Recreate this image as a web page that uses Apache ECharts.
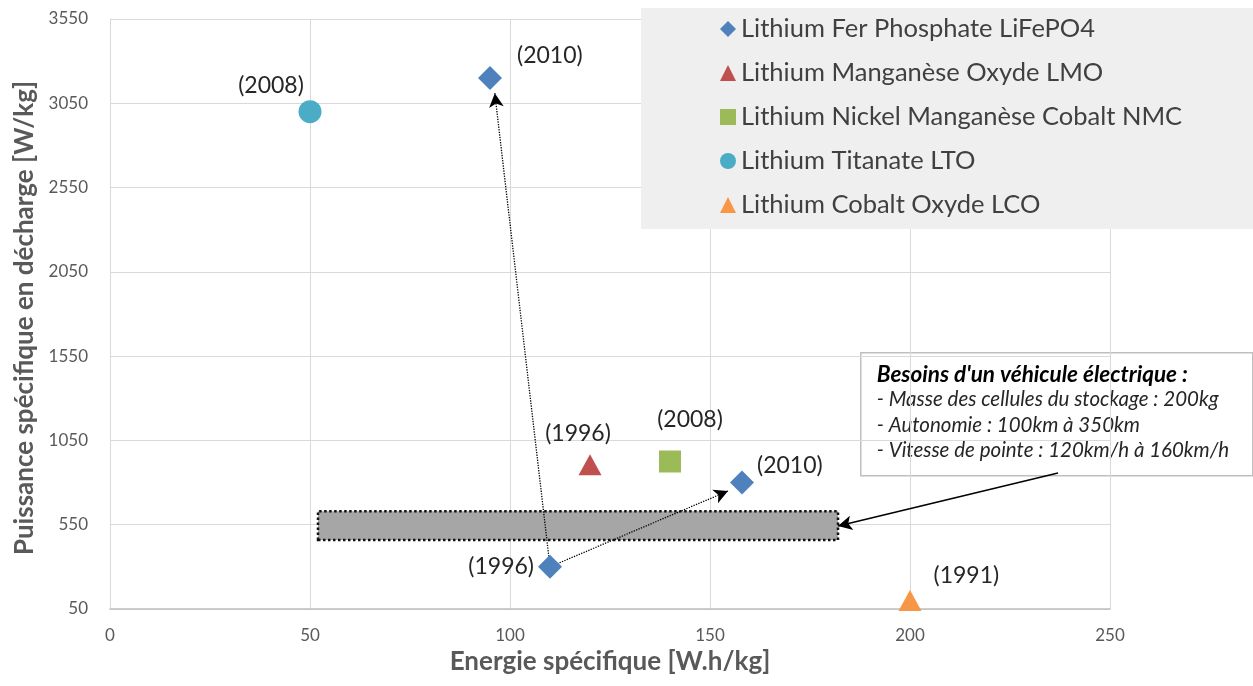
<!DOCTYPE html>
<html>
<head>
<meta charset="utf-8">
<script src="https://cdn.jsdelivr.net/npm/echarts@6/dist/echarts.min.js"></script>
<style>
  html, body { margin: 0; padding: 0; background: #fff; }
  #chart { width: 1253px; height: 686px; }
</style>
</head>
<body>
<div id="chart"></div>
<script>
// noms des familles de batteries
var seriesNames = [
  'Lithium Fer Phosphate LiFePO4',
  'Lithium Manganèse Oxyde LMO',
  'Lithium Nickel Manganèse Cobalt NMC',
  'Lithium Titanate LTO',
  'Lithium Cobalt Oxyde LCO'
];
// energie specifique [W.h/kg]
var lfpX = [110, 158, 95];
var lmoX = [120];
var nmcX = [140];
var ltoX = [50];
var lcoX = [200];
// puissance specifique [W/kg]
var lfpY = [300, 800, 3200];
var lmoY = [905];
var nmcY = [925];
var ltoY = [3000];
var lcoY = [100];
// annees
var lfpYears = ['(1996)', '(2010)', '(2010)'];
var lmoYears = ['(1996)'];
var nmcYears = ['(2008)'];
var ltoYears = ['(2008)'];
var lcoYears = ['(1991)'];

// evolution LiFePO4 (fleches pointillees)
var arrowFrom = [110, 300];
var arrowTo1 = [96.2, 3110];
var arrowTo2 = [154.5, 750];
// zone besoins vehicule electrique
var needX = [52, 182];
var needY = [460, 630];
// fleche de la note
var noteFrom = [237, 857];
var noteTo = [182, 542];

var xTicks = { min: 0, max: 250, step: 50 };
var yTicks = { min: 50, max: 3550, step: 500 };

var colors = ['#4F81BD', '#C0504D', '#9BBB59', '#4BACC6', '#F79646'];
var symbols = ['diamond', 'triangle', 'rect', 'circle', 'triangle'];
var sizes = [[24, 24], [23, 21], [22, 22], [23, 23], [23, 21]];
var font = 'Lato, "Open Sans", sans-serif';

function pts(xs, ys, years, labels) {
  return xs.map(function (x, i) {
    return { value: [x, ys[i]], name: years[i], label: labels[i] };
  });
}
var lblBase = { show: true, color: '#262626', fontSize: 23, fontFamily: font, formatter: '{b}' };

var chart = echarts.init(document.getElementById('chart'));
var option = {
  animation: false,
  grid: { left: 110, right: 143, top: 19, bottom: 77 },
  xAxis: {
    type: 'value', min: xTicks.min, max: xTicks.max, interval: xTicks.step,
    name: 'Energie spécifique [W.h/kg]', nameLocation: 'middle', nameGap: 40,
    nameTextStyle: { color: '#595959', fontSize: 26, fontWeight: 'bold', fontFamily: font },
    axisLine: { lineStyle: { color: '#bfbfbf', width: 1.5 } },
    axisTick: { show: false },
    axisLabel: { color: '#595959', fontSize: 17, fontFamily: font, margin: 18 },
    splitLine: { lineStyle: { color: '#d9d9d9' } }
  },
  yAxis: {
    type: 'value', min: yTicks.min, max: yTicks.max, interval: yTicks.step,
    name: 'Puissance spécifique en décharge [W/kg]', nameLocation: 'middle', nameGap: 72,
    nameTextStyle: { color: '#595959', fontSize: 26, fontWeight: 'bold', fontFamily: font, padding: [0, 8, 0, 0] },
    axisLine: { show: true, lineStyle: { color: '#d9d9d9' } },
    axisTick: { show: false },
    axisLabel: {
      color: '#595959', fontSize: 17, fontFamily: font, margin: 22,
      formatter: function (v) { return String(v); }
    },
    splitLine: { lineStyle: { color: '#d9d9d9' } }
  },
  legend: {
    orient: 'vertical', left: 641, top: 8,
    padding: [8, 90, 11, 79],
    backgroundColor: '#efefef',
    itemWidth: 16, itemHeight: 16, itemGap: 18,
    textStyle: { color: '#404040', fontSize: 25.5, fontFamily: font },
    data: seriesNames
  },
  series: [
    {
      name: seriesNames[0], type: 'scatter', symbol: symbols[0], symbolSize: sizes[0],
      itemStyle: { color: colors[0], opacity: 1 },
      label: lblBase,
      data: pts(lfpX, lfpY, lfpYears, [
        { position: 'left', distance: 4 },
        { position: 'right', distance: 3, offset: [0, -17] },
        { position: 'right', distance: 15, offset: [0, -22] }
      ]),
      markLine: {
        silent: true, symbol: ['none', 'arrow'], symbolSize: [11, 14],
        label: { show: false },
        lineStyle: { color: '#000', type: 'dotted', width: 1.3 },
        data: [
          [{ coord: arrowFrom }, { coord: arrowTo1 }],
          [{ coord: arrowFrom }, { coord: arrowTo2 }]
        ]
      },
      z: 5
    },
    {
      name: seriesNames[1], type: 'scatter', symbol: symbols[1], symbolSize: sizes[1],
      itemStyle: { color: colors[1], opacity: 1 },
      label: lblBase,
      data: pts(lmoX, lmoY, lmoYears, [{ position: 'top', distance: 9, offset: [-12, 0] }]),
      z: 5
    },
    {
      name: seriesNames[2], type: 'scatter', symbol: symbols[2], symbolSize: sizes[2],
      itemStyle: { color: colors[2], opacity: 1 },
      label: lblBase,
      data: pts(nmcX, nmcY, nmcYears, [{ position: 'top', distance: 19, offset: [20, 0] }]),
      z: 5
    },
    {
      name: seriesNames[3], type: 'scatter', symbol: symbols[3], symbolSize: sizes[3],
      itemStyle: { color: colors[3], opacity: 1 },
      label: lblBase,
      data: pts(ltoX, ltoY, ltoYears, [{ position: 'top', distance: 3, offset: [-39, 0] }]),
      z: 5
    },
    {
      name: seriesNames[4], type: 'scatter', symbol: symbols[4], symbolSize: sizes[4],
      itemStyle: { color: colors[4], opacity: 1 },
      label: lblBase,
      data: pts(lcoX, lcoY, lcoYears, [{ position: 'right', distance: 12, offset: [0, -25] }]),
      markArea: {
        silent: true,
        itemStyle: { color: '#a6a6a6', borderColor: '#111', borderType: 'dotted', borderWidth: 2.5 },
        data: [[{ coord: [needX[0], needY[0]] }, { coord: [needX[1], needY[1]] }]]
      },
      markLine: {
        silent: true, symbol: ['none', 'arrow'], symbolSize: [11, 14],
        label: { show: false },
        lineStyle: { color: '#000', type: 'solid', width: 1.5 },
        data: [[{ coord: noteFrom }, { coord: noteTo }]]
      },
      z: 5
    }
  ],
  graphic: [
    {
      type: 'group', left: 860, top: 352, z: 100,
      children: [
        {
          type: 'rect', shape: { width: 392, height: 123 },
          style: { fill: '#fff', stroke: '#bfbfbf', lineWidth: 1.5 }
        },
        {
          type: 'text', left: 16, top: 10,
          style: {
            text: "{h|Besoins d'un véhicule électrique :}\n" +
              '{t|- Masse des cellules du stockage : 200kg}\n' +
              '{t|- Autonomie : 100km à 350km}\n' +
              '{t|- Vitesse de pointe : 120km/h à 160km/h}',
            rich: {
              h: { fontSize: 22.5, fontStyle: 'italic', fontWeight: 'bold', fill: '#000', fontFamily: font, lineHeight: 25.5 },
              t: { fontSize: 20.5, fontStyle: 'italic', fill: '#262626', fontFamily: font, lineHeight: 25.5 }
            }
          }
        }
      ]
    }
  ]
};
chart.setOption(option);
</script>
</body>
</html>
